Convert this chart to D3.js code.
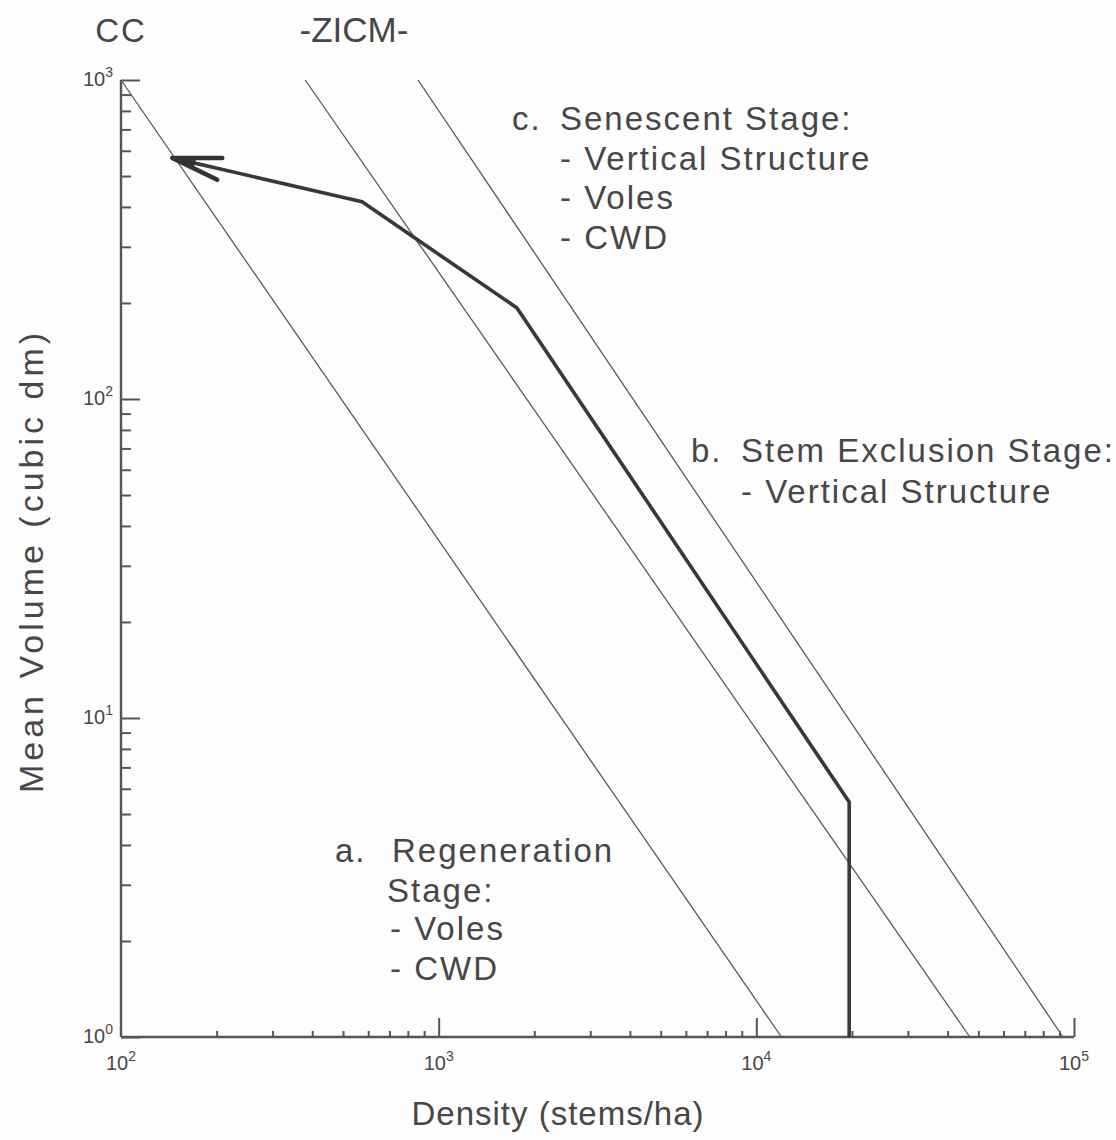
<!DOCTYPE html>
<html>
<head>
<meta charset="utf-8">
<script src="https://cdn.jsdelivr.net/npm/d3@7"></script>
<style>
  html, body { margin: 0; padding: 0; background: #fdfdfd; }
  svg { display: block; }
  text { font-family: "Liberation Sans", Arial, Helvetica, sans-serif; fill: #474747; }
</style>
</head>
<body>
<svg id="chart" width="1116" height="1140"></svg>
<script>
// Self-thinning boundary lines: [density (stems/ha), mean volume (dm^3)] at each end
const ccLine = [[100, 1000], [12000, 1]];
const zicmLowerLine = [[380, 1000], [47000, 1]];
const zicmUpperLine = [[861, 1000], [92300, 1]];

// Stand development trajectory, from establishment towards the arrowhead
const trajectory = [[19600, 1], [19600, 5.45], [1764, 193], [574, 415], [145, 570]];

// Axis decades
const xDecades = [2, 3, 4, 5];
const yDecades = [0, 1, 2, 3];

// Zone labels above the plot
const zoneLabels = ["CC", "-ZICM-"];

// Stage annotations
const stageC = ["c.", "Senescent Stage:", "- Vertical Structure", "- Voles", "- CWD"];
const stageB = ["b.", "Stem Exclusion Stage:", "- Vertical Structure"];
const stageA = ["a.", "Regeneration", "Stage:", "- Voles", "- CWD"];

const svg = d3.select("#chart");

const x = d3.scaleLog().domain([100, 1e5]).range([121, 1074]);
const y = d3.scaleLog().domain([1, 1000]).range([1037, 80]);

const axisColor = "#555";

// minor tick values
const minorVals = (lo, hi) => {
  const v = [];
  for (let e = lo; e < hi; e++) for (let m = 2; m <= 9; m++) v.push(m * Math.pow(10, e));
  return v;
};

// Y axis: minor and major ticks pointing into the plot
const yMinor = svg.append("g").attr("transform", `translate(${x(100)},0)`)
  .call(d3.axisLeft(y).tickValues(minorVals(0, 3)).tickSize(-10).tickFormat(""));
const yMajor = svg.append("g").attr("transform", `translate(${x(100)},0)`)
  .call(d3.axisLeft(y).tickValues(yDecades.map(d => Math.pow(10, d))).tickSize(-19).tickFormat(""));

// X axis: small ticks pointing up into the plot
const xMinor = svg.append("g").attr("transform", `translate(0,${y(1)})`)
  .call(d3.axisBottom(x).tickValues(minorVals(2, 5)).tickSize(-6).tickFormat(""));
const xMajor = svg.append("g").attr("transform", `translate(0,${y(1)})`)
  .call(d3.axisBottom(x).tickValues(xDecades.slice(1).map(d => Math.pow(10, d))).tickSize(-19).tickFormat(""));

[yMinor, yMajor, xMinor, xMajor].forEach(g => {
  g.select(".domain").remove();
  g.selectAll(".tick line").attr("stroke", axisColor).attr("stroke-width", 2);
});
// axis lines
svg.append("line").attr("x1", x(100)).attr("x2", x(100)).attr("y1", y(1000)).attr("y2", y(1))
  .attr("stroke", axisColor).attr("stroke-width", 2.4);
svg.append("line").attr("x1", x(100)).attr("x2", x(1e5)).attr("y1", y(1)).attr("y2", y(1))
  .attr("stroke", axisColor).attr("stroke-width", 2.4);

// Power-of-ten tick labels
const powLabel = (sel, e) => {
  sel.append("tspan").text("10");
  sel.append("tspan").attr("dy", -9).attr("font-size", 14).text(e);
};
svg.append("g").selectAll("text").data(yDecades).join("text")
  .attr("x", x(100) - 8).attr("y", d => y(Math.pow(10, d)) + 6)
  .attr("text-anchor", "end").attr("font-size", 20)
  .each(function(d) { powLabel(d3.select(this), d); });
svg.append("g").selectAll("text").data(xDecades).join("text")
  .attr("x", d => x(Math.pow(10, d)) + 0).attr("y", y(1) + 33)
  .attr("text-anchor", "middle").attr("font-size", 20)
  .each(function(d) { powLabel(d3.select(this), d); });

// Boundary lines
const line = d3.line().x(d => x(d[0])).y(d => y(d[1]));
svg.append("g").selectAll("path").data([ccLine, zicmLowerLine, zicmUpperLine]).join("path")
  .attr("d", line).attr("fill", "none").attr("stroke", "#595959").attr("stroke-width", 1.3);

// Trajectory
svg.append("path").attr("d", line(trajectory)).attr("fill", "none")
  .attr("stroke", "#383838").attr("stroke-width", 3.6).attr("stroke-linejoin", "round");

// Open arrowhead at the end of the trajectory
const tip = trajectory[trajectory.length - 1], prev = trajectory[trajectory.length - 2];
const tx = x(tip[0]), ty = y(tip[1]);
const ang = Math.atan2(y(prev[1]) - ty, x(prev[0]) - tx);
const barb = 50, spread = 13 * Math.PI / 180;
svg.append("path")
  .attr("d", `M${tx + barb * Math.cos(ang - spread)},${ty + barb * Math.sin(ang - spread)}L${tx},${ty}L${tx + barb * Math.cos(ang + spread)},${ty + barb * Math.sin(ang + spread)}`)
  .attr("fill", "none").attr("stroke", "#333").attr("stroke-width", 4.5)
  .attr("stroke-linejoin", "round").attr("stroke-linecap", "round");
svg.append("path")
  .attr("d", `M${tx},${ty}L${tx + 22 * Math.cos(ang - 0.12)},${ty + 22 * Math.sin(ang - 0.12)}L${tx + 22 * Math.cos(ang + 0.12)},${ty + 22 * Math.sin(ang + 0.12)}Z`)
  .attr("fill", "#333").attr("stroke", "#333").attr("stroke-width", 3).attr("stroke-linejoin", "round");

// Zone labels
svg.append("text").attr("x", x(100)).attr("y", 42).attr("text-anchor", "middle")
  .attr("font-size", 33).attr("letter-spacing", 2).text(zoneLabels[0]);
svg.append("text").attr("x", 354).attr("y", 42).attr("text-anchor", "middle")
  .attr("font-size", 35).text(zoneLabels[1]);

// Stage annotations
const put = (txt, px, py) => svg.append("text").attr("x", px).attr("y", py)
  .attr("font-size", 33).attr("letter-spacing", 2).text(txt);
put(stageC[0], 512, 130); put(stageC[1], 560, 130);
put(stageC[2], 560, 170); put(stageC[3], 560, 209); put(stageC[4], 560, 249);
put(stageB[0], 691, 462); put(stageB[1], 741, 462); put(stageB[2], 741, 503);
put(stageA[0], 335, 862); put(stageA[1], 392, 862); put(stageA[2], 387, 902);
put(stageA[3], 390, 940); put(stageA[4], 390, 980);

// Axis titles
svg.append("text").attr("x", 558).attr("y", 1125).attr("text-anchor", "middle")
  .attr("font-size", 33).attr("letter-spacing", 1).text("Density (stems/ha)");
svg.append("text").attr("transform", "translate(43,561) rotate(-90)").attr("text-anchor", "middle")
  .attr("font-size", 34).attr("letter-spacing", 4).text("Mean Volume (cubic dm)");
</script>
</body>
</html>
